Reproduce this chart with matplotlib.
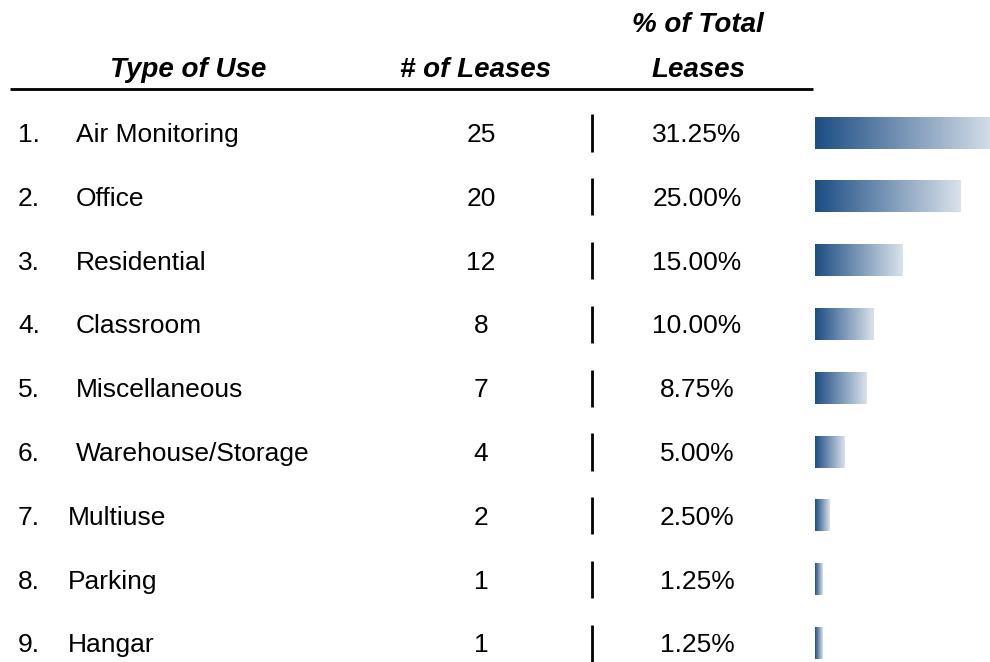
import matplotlib.pyplot as plt
import numpy as np
from matplotlib.colors import LinearSegmentedColormap

uses = ['Air Monitoring', 'Office', 'Residential', 'Classroom', 'Miscellaneous',
        'Warehouse/Storage', 'Multiuse', 'Parking', 'Hangar']
leases = [25, 20, 12, 8, 7, 4, 2, 1, 1]
pct = ['31.25%', '25.00%', '15.00%', '10.00%', '8.75%', '5.00%', '2.50%', '1.25%', '1.25%']

plt.rcParams['font.family'] = ['Liberation Sans', 'DejaVu Sans']

fig = plt.figure(figsize=(9.9, 6.62), dpi=100)

# rows: row 0 centred at y=133px, 63.8px per row
top, bottom = (0 - 133) / 63.8, (662 - 133) / 63.8

ax = fig.add_axes([0, 0, 1, 1])
ax.set_xlim(0, 990)
ax.set_ylim(bottom, top)
ax.axis('off')

hdr = dict(fontsize=20, fontweight='bold', fontstyle='italic', va='center', ha='center')
ax.text(188, -0.99, 'Type of Use', **hdr)
ax.text(476, -0.99, '# of Leases', **hdr)
ax.text(698, -1.69, '% of Total', **hdr)
ax.text(698, -0.99, 'Leases', **hdr)
ax.plot([10, 813], [-0.69, -0.69], color='black', lw=2, solid_capstyle='butt')

for i, (name, n, p) in enumerate(zip(uses, leases, pct)):
    y = i + 0.03
    ax.text(18, y, f'{i + 1}.', fontsize=19, va='center', ha='left')
    ax.text(76 if i < 6 else 68, y, name, fontsize=19, va='center', ha='left')
    ax.text(481, y, str(n), fontsize=19, va='center', ha='center')
    ax.text(697, y, p, fontsize=19, va='center', ha='center')
    ax.plot([592, 592], [i - 0.29, i + 0.29], color='black', lw=2, solid_capstyle='butt')

# gradient bars
cmap = LinearSegmentedColormap.from_list('blu', ['#1c4d83', '#dae2eb'])
grad = np.linspace(0, 1, 256).reshape(1, -1)
bx = fig.add_axes([815 / 990, 0, 175 / 990, 1])
for i, n in enumerate(leases):
    bx.imshow(grad, cmap=cmap, aspect='auto', extent=(0, n, i + 0.245, i - 0.245),
              interpolation='bilinear')
bx.set_xlim(0, 24)
bx.set_ylim(bottom, top)
bx.axis('off')

fig.savefig('out.png', dpi=100)
